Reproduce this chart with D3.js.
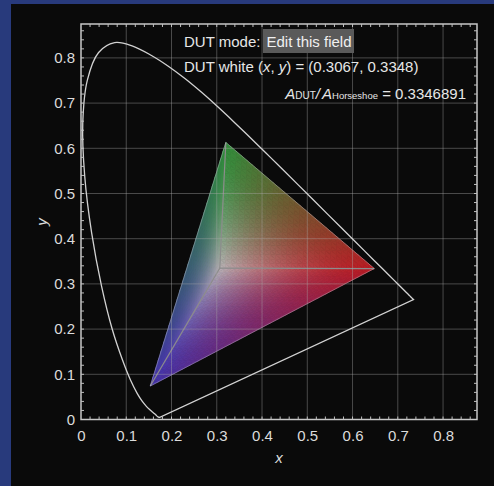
<!DOCTYPE html>
<html><head><meta charset="utf-8">
<script src="https://cdn.jsdelivr.net/npm/d3@7"></script>
<style>
html,body{margin:0;padding:0;background:#0a0a0a;}
svg{display:block;}
text{font-family:"Liberation Sans",Arial,Helvetica,sans-serif;}
</style></head><body>
<svg id="chart" width="494" height="486"></svg>
<script>
// ---- data ----
const wavelengths = [380,385,390,395,400,405,410,415,420,425,430,435,440,445,450,455,460,465,470,475,480,485,490,495,500,505,510,515,520,525,530,535,540,545,550,555,560,565,570,575,580,585,590,595,600,605,610,615,620,625,630,635,640,645,650,655,660,665,670,675,680,685,690,695,700];
const locusX = [0.1741,0.1740,0.1738,0.1736,0.1733,0.1730,0.1726,0.1721,0.1714,0.1703,0.1689,0.1669,0.1644,0.1611,0.1566,0.1510,0.1440,0.1355,0.1241,0.1096,0.0913,0.0687,0.0454,0.0235,0.0082,0.0039,0.0139,0.0389,0.0743,0.1142,0.1547,0.1929,0.2296,0.2658,0.3016,0.3373,0.3731,0.4087,0.4441,0.4788,0.5125,0.5448,0.5752,0.6029,0.6270,0.6482,0.6658,0.6801,0.6915,0.7006,0.7079,0.7140,0.7190,0.7230,0.7260,0.7283,0.7300,0.7311,0.7320,0.7327,0.7334,0.7340,0.7344,0.7346,0.7347];
const locusY = [0.0050,0.0050,0.0049,0.0049,0.0048,0.0048,0.0048,0.0048,0.0051,0.0058,0.0069,0.0086,0.0109,0.0138,0.0177,0.0227,0.0297,0.0399,0.0578,0.0868,0.1327,0.2007,0.2950,0.4127,0.5384,0.6548,0.7502,0.8120,0.8338,0.8262,0.8059,0.7816,0.7543,0.7243,0.6923,0.6589,0.6245,0.5896,0.5547,0.5202,0.4866,0.4544,0.4242,0.3965,0.3725,0.3514,0.3340,0.3197,0.3083,0.2993,0.2920,0.2859,0.2809,0.2770,0.2740,0.2717,0.2700,0.2689,0.2680,0.2673,0.2666,0.2660,0.2656,0.2654,0.2653];
const primaryNames = ["red","green","blue"];
const primaryX = [0.648, 0.320, 0.153];
const primaryY = [0.334, 0.613, 0.074];
const whiteX = 0.3067;
const whiteY = 0.3348;
const axisMax = 0.875;
const xTicks = [0,0.1,0.2,0.3,0.4,0.5,0.6,0.7,0.8];
const yTicks = [0,0.1,0.2,0.3,0.4,0.5,0.6,0.7,0.8];
const minorStep = 0.02;
const modeLabel = "DUT mode:";
const modeField = "Edit this field";
const areaRatio = "0.3346891";

// ---- layout ----
const svg = d3.select("#chart");
const L = 81, R = 477, T = 24, B = 419.5;
const x = d3.scaleLinear().domain([0, axisMax]).range([L, R]);
const y = d3.scaleLinear().domain([0, axisMax]).range([B, T]);

svg.append("rect").attr("width",494).attr("height",486).attr("fill","#0a0a0a");
svg.append("rect").attr("x",0).attr("y",0).attr("width",11).attr("height",486).attr("fill","#283a7c");
svg.append("rect").attr("x",0).attr("y",0).attr("width",494).attr("height",4).attr("fill","#283a7c");

// ---- gamut triangle with colour faces ----
const vColors = [[196,30,38],[52,150,62],[72,54,180]];
const wColor = [196,188,192];
const P = primaryX.map((px,i)=>[px, primaryY[i]]);
const W = [whiteX, whiteY];
const gTri = svg.append("g").attr("opacity",0.94);
const N = 28;
function mix(c0,c1,c2,a,b,c){
  const aw = Math.pow(Math.max(a,0),1.7);
  const s = (b+c) > 0 ? (1-aw)/(b+c) : 0;
  return [0,1,2].map(k=>Math.round(aw*c0[k]+b*s*c1[k]+c*s*c2[k]));
}
function pt(P0,P1,P2,u,v){return [P0[0]+u*(P1[0]-P0[0])+v*(P2[0]-P0[0]), P0[1]+u*(P1[1]-P0[1])+v*(P2[1]-P0[1])];}
const pieces = [];
for (let f=0; f<3; f++){
  const A = W, Bv = P[f], Cv = P[(f+1)%3];
  const cA = wColor, cB = vColors[f], cC = vColors[(f+1)%3];
  for (let i=0;i<N;i++){
    for (let j=0;j<N-i;j++){
      const tris = [[[i,j],[i+1,j],[i,j+1]]];
      if (i+j<N-1) tris.push([[i+1,j],[i+1,j+1],[i,j+1]]);
      tris.forEach(t=>{
        const pts = t.map(([a,b])=>pt(A,Bv,Cv,a/N,b/N));
        const u = (t[0][0]+t[1][0]+t[2][0])/(3*N), v=(t[0][1]+t[1][1]+t[2][1])/(3*N);
        const col = mix(cA,cB,cC,1-u-v,u,v);
        pieces.push({pts, col:`rgb(${col[0]},${col[1]},${col[2]})`});
      });
    }
  }
}
gTri.selectAll("path.piece").data(pieces).join("path")
  .attr("class","piece")
  .attr("d",d=>"M"+d.pts.map(p=>x(p[0])+","+y(p[1])).join("L")+"Z")
  .attr("fill",d=>d.col).attr("stroke",d=>d.col).attr("stroke-width",0.7).attr("stroke-linejoin","round");

// inner lines white -> primaries
svg.append("g").selectAll("line").data(P).join("line")
  .attr("x1",x(whiteX)).attr("y1",y(whiteY))
  .attr("x2",d=>x(d[0])).attr("y2",d=>y(d[1]))
  .attr("stroke","#8c8c8c").attr("stroke-width",1.2);
// triangle outline
svg.append("path")
  .attr("d",d3.line().x(d=>x(d[0])).y(d=>y(d[1]))(P)+"Z")
  .attr("fill","none").attr("stroke","rgba(200,200,210,0.4)").attr("stroke-width",1);

// ---- grid ----
const grid = svg.append("g");
grid.selectAll("line.gx").data(xTicks.filter(d=>d>0)).join("line")
  .attr("x1",d=>x(d)).attr("x2",d=>x(d)).attr("y1",T).attr("y2",B)
  .attr("stroke","rgba(170,170,170,0.4)").attr("stroke-width",1);
grid.selectAll("line.gy").data(yTicks.filter(d=>d>0)).join("line")
  .attr("y1",d=>y(d)).attr("y2",d=>y(d)).attr("x1",L).attr("x2",R)
  .attr("stroke","rgba(170,170,170,0.4)").attr("stroke-width",1);

// ---- spectral locus ----
const locus = locusX.map((lx,i)=>[lx, locusY[i]]);
svg.append("path")
  .attr("d",d3.line().x(d=>x(d[0])).y(d=>y(d[1])).curve(d3.curveCatmullRom)(locus)+"Z")
  .attr("fill","none").attr("stroke","#d2d2d2").attr("stroke-width",1.3);

// ---- frame + minor ticks ----
svg.append("rect").attr("x",L).attr("y",T).attr("width",R-L).attr("height",B-T)
  .attr("fill","none").attr("stroke","#c8c8c8").attr("stroke-width",1.5);
const minors = d3.range(minorStep, axisMax, minorStep);
const tk = svg.append("g").attr("stroke","#c0c0c0").attr("stroke-width",1);
minors.forEach(m=>{
  tk.append("line").attr("x1",x(m)).attr("x2",x(m)).attr("y1",B).attr("y2",B-3);
  tk.append("line").attr("x1",x(m)).attr("x2",x(m)).attr("y1",T).attr("y2",T+3);
  tk.append("line").attr("y1",y(m)).attr("y2",y(m)).attr("x1",L).attr("x2",L+3);
  tk.append("line").attr("y1",y(m)).attr("y2",y(m)).attr("x1",R).attr("x2",R-3);
});

// ---- axes labels ----
const fmt = d => d===0 ? "0" : d3.format(".1f")(d);
const ax = svg.append("g").attr("transform",`translate(0,${B})`)
  .call(d3.axisBottom(x).tickValues(xTicks).tickFormat(fmt).tickSize(0).tickPadding(11));
const ay = svg.append("g").attr("transform",`translate(${L},0)`)
  .call(d3.axisLeft(y).tickValues(yTicks).tickFormat(fmt).tickSize(0).tickPadding(6));
[ax,ay].forEach(a=>{
  a.select(".domain").remove();
  a.selectAll("text").attr("fill","#dcdcdc").attr("font-size",15)
    .attr("font-family","'Liberation Sans',Arial,sans-serif");
});
svg.append("text").attr("x",279).attr("y",463).attr("text-anchor","middle")
  .attr("fill","#dcdcdc").attr("font-size",15).attr("font-style","italic").text("x");
svg.append("text").attr("transform","translate(47,222) rotate(-90)").attr("text-anchor","middle")
  .attr("fill","#dcdcdc").attr("font-size",15).attr("font-style","italic").text("y");

// ---- annotation texts ----
svg.append("text").attr("x",184).attr("y",47).attr("fill","#e6e6e6").attr("font-size",15).text(modeLabel);
svg.append("rect").attr("x",263).attr("y",29).attr("width",91).attr("height",24).attr("fill","#5a5a5a");
svg.append("text").attr("x",266.5).attr("y",47).attr("fill","#f0f0f0").attr("font-size",15).text(modeField);

const t2 = svg.append("text").attr("x",184).attr("y",71.5).attr("fill","#e6e6e6").attr("font-size",15);
t2.append("tspan").text("DUT white (");
t2.append("tspan").attr("font-style","italic").text("x");
t2.append("tspan").text(", ");
t2.append("tspan").attr("font-style","italic").text("y");
t2.append("tspan").text(`) = (${d3.format(".4f")(whiteX)}, ${d3.format(".4f")(whiteY)})`);

const t3 = svg.append("text").attr("x",466).attr("y",98.5).attr("text-anchor","end").attr("fill","#e6e6e6").attr("font-size",15);
t3.append("tspan").attr("font-style","italic").text("A");
t3.append("tspan").attr("font-size",10).text("DUT");
t3.append("tspan").attr("font-style","italic").text("/");
t3.append("tspan").attr("font-style","italic").attr("dx",2).text("A");
t3.append("tspan").attr("font-size",9.5).text("Horseshoe");
t3.append("tspan").text(" = " + areaRatio);
</script>
</body></html>
